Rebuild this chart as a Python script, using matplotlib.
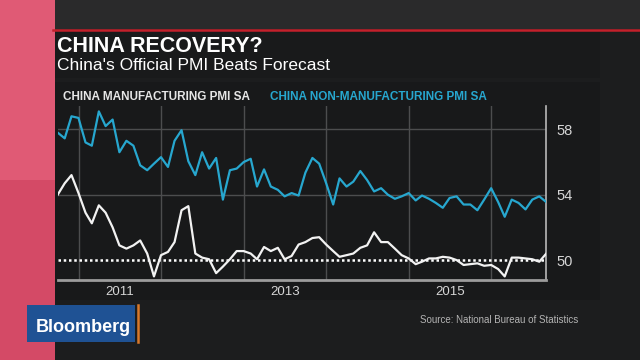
import numpy as np
import pandas as pd
import matplotlib.pyplot as plt
from matplotlib.patches import Rectangle
from matplotlib.lines import Line2D

plt.rcParams['font.family'] = ['Liberation Sans', 'DejaVu Sans']

# monthly readings, Sep 2010 .. Aug 2016
months = pd.date_range("2010-09-30", periods=72, freq="ME")

manufacturing = [
    54.0, 54.7, 55.2, 54.1, 52.9, 52.25, 53.35, 52.9, 52.0, 50.9, 50.7, 50.9,
    51.2, 50.4, 49.0, 50.3, 50.5, 51.1, 53.05, 53.3, 50.4, 50.15, 50.05, 49.2,
    49.6, 50.05, 50.55, 50.55, 50.4, 50.05, 50.8, 50.55, 50.75, 50.05, 50.25, 50.95,
    51.1, 51.35, 51.4, 50.95, 50.55, 50.2, 50.3, 50.4, 50.75, 50.9, 51.7, 51.1,
    51.1, 50.7, 50.3, 50.1, 49.75, 49.9, 50.1, 50.1, 50.2, 50.15, 50.0, 49.7,
    49.75, 49.8, 49.65, 49.7, 49.45, 49.0, 50.15, 50.15, 50.1, 50.05, 49.9, 50.4,
]

non_manufacturing = [
    57.8, 57.45, 58.8, 58.7, 57.2, 57.0, 59.1, 58.2, 58.6, 56.6, 57.3, 57.0,
    55.8, 55.5, 55.9, 56.3, 55.7, 57.3, 57.95, 56.05, 55.2, 56.6, 55.6, 56.25,
    53.7, 55.5, 55.6, 56.0, 56.2, 54.5, 55.55, 54.5, 54.3, 53.9, 54.1, 53.95,
    55.35, 56.25, 55.9, 54.7, 53.4, 55.0, 54.5, 54.8, 55.45, 54.9, 54.2, 54.4,
    54.0, 53.75, 53.9, 54.1, 53.65, 53.95, 53.75, 53.5, 53.2, 53.8, 53.9, 53.4,
    53.4, 53.05, 53.7, 54.4, 53.55, 52.65, 53.7, 53.5, 53.1, 53.7, 53.9, 53.55,
]

y_ticks = [50, 54, 58]
year_starts = pd.to_datetime(["2011-01-01", "2012-01-01", "2013-01-01",
                              "2014-01-01", "2015-01-01", "2016-01-01"])
year_label_pos = pd.to_datetime(["2011-07-01", "2013-07-01", "2015-07-01"])
year_labels = ["2011", "2013", "2015"]

W, H = 640, 360
BG = "#1c1d1e"
CYAN = "#27a7cf"
WHITE = "#f2f2f2"
GRID = "#4c4d4e"


def px_rect(fig, x0, y0, x1, y1, color, z=0):
    # rectangle given in pixel coords, y measured from the top
    fig.add_artist(Rectangle((x0 / W, 1 - y1 / H), (x1 - x0) / W, (y1 - y0) / H,
                             transform=fig.transFigure, facecolor=color,
                             edgecolor="none", zorder=z))


fig = plt.figure(figsize=(6.4, 3.6), dpi=100, facecolor=BG)

# background pieces
px_rect(fig, 0, 0, W, 29, "#2a2a2b")
px_rect(fig, 0, 0, 55, 180, "#e05a75", z=1)
px_rect(fig, 0, 180, 55, H, "#d44a66", z=1)
px_rect(fig, 55, 31, 600, 78, "#191a1b")
px_rect(fig, 55, 82, 600, 300, "#18191a")
fig.add_artist(Line2D([53 / W, 1], [1 - 30 / H] * 2, transform=fig.transFigure,
                      color="#c4202b", lw=1.8, zorder=2))

# titles
fig.text(57 / W, 1 - 52 / H, "CHINA RECOVERY?", color="white", fontsize=15.5,
         fontweight="bold", va="baseline")
fig.text(57 / W, 1 - 70 / H, "China's Official PMI Beats Forecast", color="white",
         fontsize=12.5, va="baseline")
fig.text(63 / W, 1 - 100 / H, "CHINA MANUFACTURING PMI SA", color="#e6e6e6",
         fontsize=8.5, fontweight="bold", va="baseline")
fig.text(270 / W, 1 - 100 / H, "CHINA NON-MANUFACTURING PMI SA", color=CYAN,
         fontsize=8.5, fontweight="bold", va="baseline")

# chart
ax = fig.add_axes([57.7 / W, 80 / H, 488.6 / W, 174 / H])
ax.set_facecolor("#18191a")
ax.set_ylim(48.78, 59.43)
ax.set_xlim(months[0], months[-1])

for d in year_starts:
    ax.axvline(d, color=GRID, lw=1, zorder=1)
for v in [54, 58]:
    ax.axhline(v, color=GRID, lw=1, zorder=1)
ax.axhline(50, color="white", lw=1.8, ls=(0, (1, 1.1)), zorder=2)

ax.plot(months, non_manufacturing, color=CYAN, lw=1.6, zorder=3)
ax.plot(months, manufacturing, color=WHITE, lw=1.6, zorder=4)

ax.yaxis.tick_right()
ax.set_yticks(y_ticks)
ax.tick_params(axis="y", length=0, pad=7, labelcolor="#d6d6d6", labelsize=10.5)
ax.set_xticks(year_label_pos)
ax.set_xticklabels(year_labels)
ax.tick_params(axis="x", length=0, pad=4, labelcolor="#d6d6d6", labelsize=9.5)

for side in ["left", "top"]:
    ax.spines[side].set_visible(False)
ax.spines["bottom"].set_color("#9c9c9c")
ax.spines["bottom"].set_linewidth(2)
ax.spines["right"].set_color("#b8b8b8")
ax.spines["right"].set_linewidth(1.2)

# footer
fig.text(578 / W, 1 - 320 / H, "Source: National Bureau of Statistics",
         color="#b4b4b4", fontsize=7, ha="right", va="center")
px_rect(fig, 27, 305, 135, 342, "#1f5294", z=3)
fig.add_artist(Line2D([138 / W] * 2, [1 - 305 / H, 1 - 342 / H],
                      transform=fig.transFigure, color="#d9782a", lw=1.8, zorder=3))
fig.text(36 / W, 1 - 331.5 / H, "Bloomberg", color="white", fontsize=13,
         fontweight="bold", va="baseline", zorder=4)

fig.savefig("out.png", dpi=100, facecolor=BG)
